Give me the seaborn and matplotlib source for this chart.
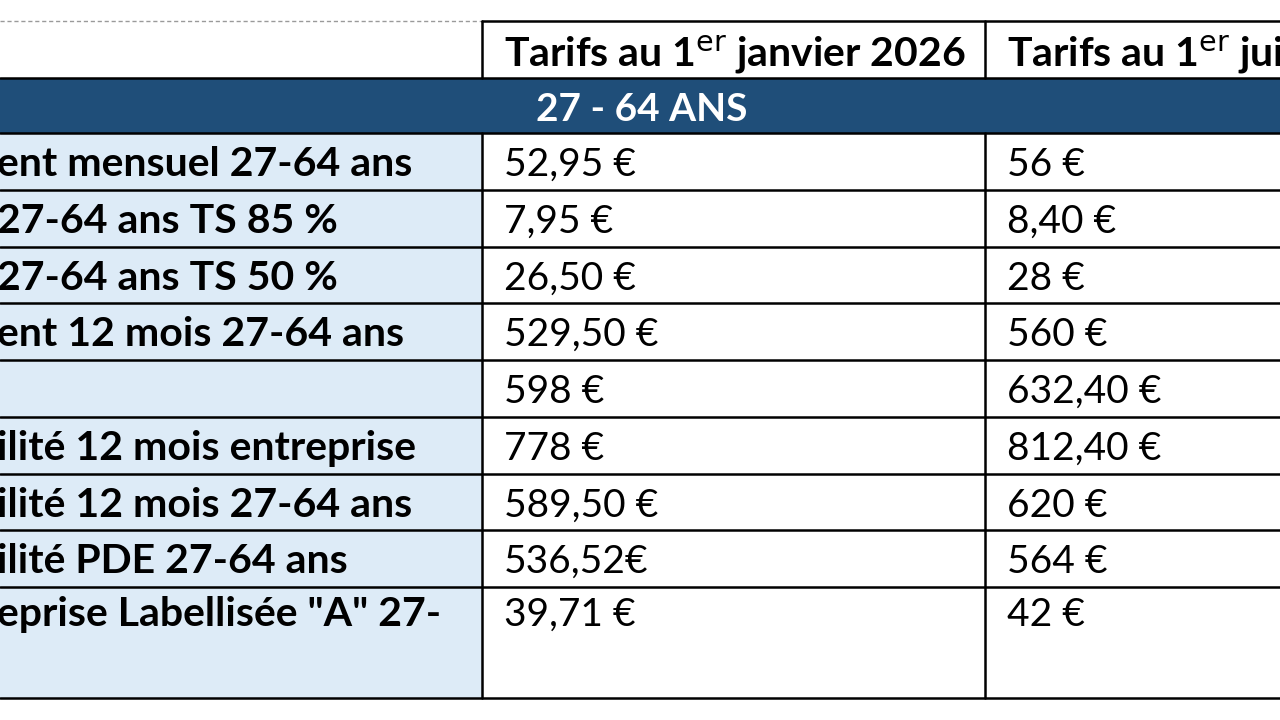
import matplotlib
matplotlib.use("Agg")
import matplotlib.pyplot as plt
import seaborn as sns
from matplotlib.patches import Rectangle

sns.set_theme(style="white")
plt.rcParams['font.family'] = ['Lato', 'DejaVu Sans']

# ---- data ----
headers = ["Tarifs au 1$^{\\mathrm{er}}$ janvier 2026", "Tarifs au 1$^{\\mathrm{er}}$ juillet 2026"]
section = "27 - 64 ANS"
labels = [
    "ent mensuel 27-64 ans",
    "27-64 ans TS 85 %",
    "27-64 ans TS 50 %",
    "ent 12 mois 27-64 ans",
    "",
    "ilité 12 mois entreprise",
    "ilité 12 mois 27-64 ans",
    "ilité PDE 27-64 ans",
    "eprise Labellisée \"A\" 27-",
]
tarifs_janvier = ["52,95 €", "7,95 €", "26,50 €", "529,50 €", "598 €", "778 €",
                  "589,50 €", "536,52€", "39,71 €"]
tarifs_juillet = ["56 €", "8,40 €", "28 €", "560 €", "632,40 €", "812,40 €",
                  "620 €", "564 €", "42 €"]

# ---- layout (pixel-like coordinates) ----
W, H = 1280, 720
fig = plt.figure(figsize=(12.8, 7.2), dpi=100)
ax = fig.add_axes([0, 0, 1, 1])
ax.set_xlim(0, W)
ax.set_ylim(H, 0)
ax.axis("off")

col_x = [0, 482, 985, 1300]
header_top, header_bot = 21, 78
band_bot = 133
row_edges = [133, 190, 247, 303, 360, 417, 474, 530, 587, 698]

DARK = "#1F4E79"
LIGHT = "#DDEBF7"
FS = 28
FS_B = 29.5

# backgrounds
ax.add_patch(Rectangle((0, header_bot), W, band_bot - header_bot, color=DARK, lw=0))
ax.add_patch(Rectangle((0, row_edges[0]), col_x[1], row_edges[-1] - row_edges[0], color=LIGHT, lw=0))

# lines
lw = 1.8
ax.plot([0, col_x[1]], [header_top, header_top], color="#9a9a9a", lw=1, ls=(0, (3, 2)))
ax.plot([col_x[1], W], [header_top, header_top], color="black", lw=lw)
for y in [header_bot, band_bot] + row_edges[1:]:
    ax.plot([0, W], [y, y], color="black", lw=lw)
for x in col_x[1:3]:
    ax.plot([x, x], [header_top, header_bot], color="black", lw=lw)
    ax.plot([x, x], [band_bot, row_edges[-1]], color="black", lw=lw)

# header texts
for i, h in enumerate(headers):
    ax.text(col_x[i + 1] + 22, header_top + 45, h, fontsize=FS_B, fontweight="bold",
            va="baseline", ha="left", color="black", clip_on=True)
ax.text(536, header_bot + 43, section, fontsize=FS, fontweight="bold",
        va="baseline", ha="left", color="white")

# rows
for r in range(len(labels)):
    top = row_edges[r]
    base = top + (39 if r == len(labels) - 1 else 43)
    ax.text(-3, base, labels[r], fontsize=FS_B, fontweight="bold", va="baseline",
            ha="left", color="black", clip_on=True)
    ax.text(col_x[1] + 22, base, tarifs_janvier[r], fontsize=FS, va="baseline",
            ha="left", color="black")
    ax.text(col_x[2] + 22, base, tarifs_juillet[r], fontsize=FS, va="baseline",
            ha="left", color="black", clip_on=True)

fig.savefig("out.png", dpi=100, facecolor="white")
